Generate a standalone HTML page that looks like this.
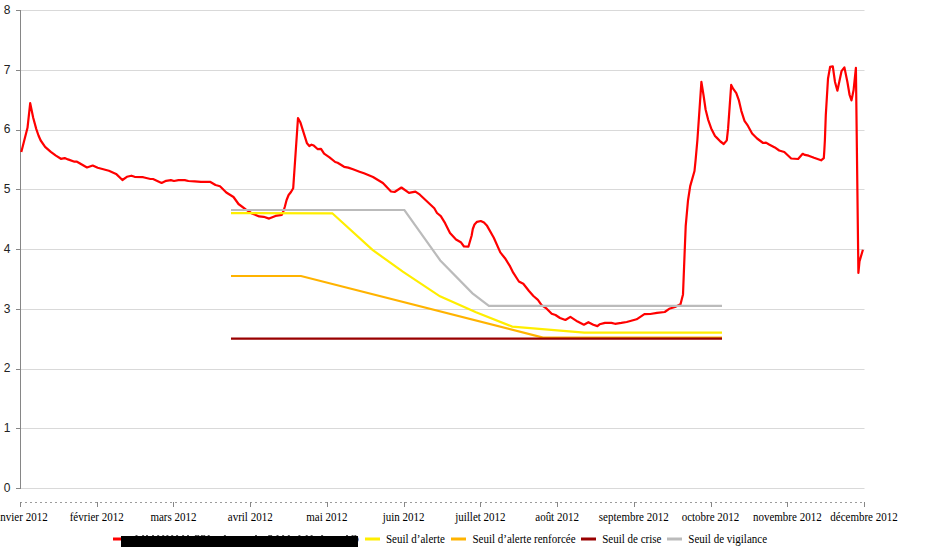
<!DOCTYPE html>
<html><head><meta charset="utf-8"><style>
html,body{margin:0;padding:0;background:#fff;width:929px;height:555px;overflow:hidden}
svg{display:block}
.ys{font-family:"Liberation Sans",sans-serif;font-size:12px;fill:#222}
.xs{font-family:"Liberation Serif",serif;font-size:11px;fill:#000}
</style></head><body>
<svg width="929" height="555" viewBox="0 0 929 555">
<rect width="929" height="555" fill="#fff"/>
<line x1="20" y1="488.5" x2="864.5" y2="488.5" stroke="#d9d9d9" stroke-width="1"/><line x1="16" y1="488.5" x2="20" y2="488.5" stroke="#868686" stroke-width="1"/><line x1="20" y1="428.5" x2="864.5" y2="428.5" stroke="#d9d9d9" stroke-width="1"/><line x1="16" y1="428.5" x2="20" y2="428.5" stroke="#868686" stroke-width="1"/><line x1="20" y1="369.5" x2="864.5" y2="369.5" stroke="#d9d9d9" stroke-width="1"/><line x1="16" y1="369.5" x2="20" y2="369.5" stroke="#868686" stroke-width="1"/><line x1="20" y1="309.5" x2="864.5" y2="309.5" stroke="#d9d9d9" stroke-width="1"/><line x1="16" y1="309.5" x2="20" y2="309.5" stroke="#868686" stroke-width="1"/><line x1="20" y1="249.5" x2="864.5" y2="249.5" stroke="#d9d9d9" stroke-width="1"/><line x1="16" y1="249.5" x2="20" y2="249.5" stroke="#868686" stroke-width="1"/><line x1="20" y1="189.5" x2="864.5" y2="189.5" stroke="#d9d9d9" stroke-width="1"/><line x1="16" y1="189.5" x2="20" y2="189.5" stroke="#868686" stroke-width="1"/><line x1="20" y1="130.5" x2="864.5" y2="130.5" stroke="#d9d9d9" stroke-width="1"/><line x1="16" y1="130.5" x2="20" y2="130.5" stroke="#868686" stroke-width="1"/><line x1="20" y1="70.5" x2="864.5" y2="70.5" stroke="#d9d9d9" stroke-width="1"/><line x1="16" y1="70.5" x2="20" y2="70.5" stroke="#868686" stroke-width="1"/><line x1="20" y1="10.5" x2="864.5" y2="10.5" stroke="#d9d9d9" stroke-width="1"/><line x1="16" y1="10.5" x2="20" y2="10.5" stroke="#868686" stroke-width="1"/>
<line x1="20.5" y1="10" x2="20.5" y2="489" stroke="#868686" stroke-width="1"/>
<line x1="20" y1="502.5" x2="865" y2="502.5" stroke="#9c9c9c" stroke-width="1" stroke-dasharray="2,3"/>
<line x1="20.5" y1="502" x2="20.5" y2="507" stroke="#868686" stroke-width="1"/><line x1="97.5" y1="502" x2="97.5" y2="507" stroke="#868686" stroke-width="1"/><line x1="173.5" y1="502" x2="173.5" y2="507" stroke="#868686" stroke-width="1"/><line x1="250.5" y1="502" x2="250.5" y2="507" stroke="#868686" stroke-width="1"/><line x1="327.5" y1="502" x2="327.5" y2="507" stroke="#868686" stroke-width="1"/><line x1="404.5" y1="502" x2="404.5" y2="507" stroke="#868686" stroke-width="1"/><line x1="480.5" y1="502" x2="480.5" y2="507" stroke="#868686" stroke-width="1"/><line x1="557.5" y1="502" x2="557.5" y2="507" stroke="#868686" stroke-width="1"/><line x1="634.5" y1="502" x2="634.5" y2="507" stroke="#868686" stroke-width="1"/><line x1="711.5" y1="502" x2="711.5" y2="507" stroke="#868686" stroke-width="1"/><line x1="787.5" y1="502" x2="787.5" y2="507" stroke="#868686" stroke-width="1"/><line x1="864.5" y1="502" x2="864.5" y2="507" stroke="#868686" stroke-width="1"/>
<g class="ys"><text x="10.5" y="491.8" text-anchor="end">0</text><text x="10.5" y="432.1" text-anchor="end">1</text><text x="10.5" y="372.3" text-anchor="end">2</text><text x="10.5" y="312.6" text-anchor="end">3</text><text x="10.5" y="252.8" text-anchor="end">4</text><text x="10.5" y="193.1" text-anchor="end">5</text><text x="10.5" y="133.3" text-anchor="end">6</text><text x="10.5" y="73.5" text-anchor="end">7</text><text x="10.5" y="13.8" text-anchor="end">8</text></g>
<g class="xs" transform="translate(0,521) scale(1,1.08) translate(0,-521)"><text x="20.0" y="521" text-anchor="middle">janvier 2012</text><text x="96.7" y="521" text-anchor="middle">février 2012</text><text x="173.5" y="521" text-anchor="middle">mars 2012</text><text x="250.2" y="521" text-anchor="middle">avril 2012</text><text x="326.9" y="521" text-anchor="middle">mai 2012</text><text x="403.6" y="521" text-anchor="middle">juin 2012</text><text x="480.4" y="521" text-anchor="middle">juillet 2012</text><text x="557.1" y="521" text-anchor="middle">août 2012</text><text x="633.8" y="521" text-anchor="middle">septembre 2012</text><text x="710.5" y="521" text-anchor="middle">octobre 2012</text><text x="787.3" y="521" text-anchor="middle">novembre 2012</text><text x="864.0" y="521" text-anchor="middle">décembre 2012</text></g>
<polyline points="21.3,152.0 27.5,127.8 30.2,103.2 33.2,117.7 36.3,129.1 38.5,135.5 40.7,140.5 45.1,146.8 50.8,151.8 55.9,155.6 60.9,158.8 64.7,158.1 68.0,159.4 74.5,161.7 77.0,161.7 87.0,167.5 92.7,165.5 97.7,167.8 108.9,170.7 116.1,173.9 122.4,180.0 126.9,176.8 131.4,175.7 134.6,176.8 143.2,177.2 150.4,179.0 153.0,179.0 161.6,182.9 166.1,180.8 170.9,180.1 174.0,181.0 178.5,180.1 184.8,180.1 188.4,181.0 194.7,181.4 201.0,181.8 210.0,181.8 215.5,185.0 220.0,186.2 226.3,192.5 233.5,197.0 238.5,204.0 245.7,209.4 252.0,213.5 259.2,216.4 263.7,216.8 269.1,218.6 275.5,215.9 281.8,214.8 283.6,210.8 284.9,206.5 286.6,200.0 288.6,195.0 291.0,192.0 293.2,188.3 298.0,118.0 300.3,122.2 307.0,143.3 309.3,146.0 311.5,144.7 313.8,145.6 317.8,149.2 321.0,148.9 324.1,153.7 329.5,157.3 335.2,162.0 337.6,162.8 344.1,166.8 348.2,167.6 353.0,169.3 359.5,171.7 364.0,173.3 373.0,177.0 382.9,183.0 391.0,191.5 394.6,192.0 401.4,187.5 409.0,192.9 415.4,191.7 419.9,194.7 434.3,208.2 437.0,213.0 440.8,216.2 445.1,223.2 450.0,233.0 456.0,239.5 460.8,242.2 464.0,246.5 468.4,246.7 471.6,235.7 472.8,229.0 474.5,224.5 477.0,221.8 480.8,221.0 484.0,222.5 486.8,225.4 493.8,237.8 500.3,252.4 505.0,258.2 510.1,266.4 513.2,272.7 518.9,281.5 523.3,283.8 529.0,291.0 533.4,296.0 537.9,299.8 541.6,305.1 546.7,308.7 551.7,313.7 555.5,315.0 560.0,318.0 565.4,320.0 570.4,316.9 577.6,321.6 583.9,324.7 588.4,322.2 593.3,324.7 597.4,326.1 599.6,324.3 605.0,322.9 611.4,322.9 615.0,323.8 621.3,322.9 626.7,322.0 636.6,319.3 644.4,314.2 650.3,314.0 657.0,312.9 664.7,312.0 669.2,308.8 675.0,307.0 680.5,304.3 683.0,294.4 684.4,258.6 685.7,226.2 688.0,200.5 690.2,186.1 694.5,171.0 695.6,160.2 697.4,140.0 701.4,81.8 703.5,95.0 705.6,109.5 708.1,119.6 711.2,128.4 715.0,136.0 716.9,137.9 720.4,141.5 723.7,144.0 726.8,140.4 728.1,128.4 731.2,84.9 733.1,88.7 736.3,93.1 738.8,100.1 741.3,110.8 744.5,120.9 748.0,125.9 752.1,133.5 757.1,138.5 763.1,143.0 766.0,142.6 769.1,144.5 774.8,147.4 779.2,150.5 784.3,152.0 791.2,158.5 798.1,159.0 802.7,153.8 804.9,154.9 808.6,155.7 814.0,157.8 821.1,160.3 823.8,158.1 824.3,150.8 824.9,140.0 825.8,115.0 828.0,78.8 830.1,66.9 832.8,66.4 835.0,82.0 837.4,90.7 841.5,71.2 844.4,67.4 847.4,82.0 849.6,95.0 851.5,100.4 853.6,90.0 855.9,67.8 858.4,273.0 859.5,261.4 862.9,249.7" fill="none" stroke="#ff0000" stroke-width="2.2" stroke-linejoin="round"/>
<polyline points="231.0,210.0 404.4,210.0 440.3,260.5 472.5,293.3 488.9,305.8 722.0,305.8" fill="none" stroke="#bbbbbb" stroke-width="2.2"/>
<polyline points="231.0,213.2 332.3,213.3 372.5,249.9 402.8,271.7 440.0,296.3 476.0,312.3 512.2,326.6 584.3,332.7 722.0,332.7" fill="none" stroke="#ffee00" stroke-width="2.2"/>
<polyline points="231.0,276.0 301.0,276.0 543.0,337.6 722.0,337.6" fill="none" stroke="#ffb300" stroke-width="2.2"/>
<polyline points="231.0,338.7 722.0,338.7" fill="none" stroke="#990000" stroke-width="2.2"/>
<rect x="113" y="537.5" width="15" height="3" fill="#ff0000"/>
<rect x="135.5" y="535" width="2" height="1" fill="#555"/><rect x="142.1" y="535" width="2" height="1" fill="#555"/><rect x="146.0" y="535" width="2" height="1" fill="#555"/><rect x="152.0" y="535" width="2" height="1" fill="#555"/><rect x="157.2" y="535" width="2" height="1" fill="#555"/><rect x="162.2" y="535" width="2" height="1" fill="#555"/><rect x="166.4" y="535" width="2" height="1" fill="#555"/><rect x="171.2" y="535" width="2" height="1" fill="#555"/><rect x="176.1" y="535" width="2" height="1" fill="#555"/><rect x="182.1" y="535" width="2" height="1" fill="#555"/><rect x="187.0" y="535" width="2" height="1" fill="#555"/><rect x="194.9" y="535" width="2" height="1" fill="#555"/><rect x="197.2" y="535" width="2" height="1" fill="#555"/><rect x="200.9" y="535" width="2" height="1" fill="#555"/><rect x="203.2" y="535" width="2" height="1" fill="#555"/><rect x="207.7" y="535" width="2" height="1" fill="#555"/><rect x="223.9" y="535" width="2" height="1" fill="#555"/><rect x="255.0" y="535" width="2" height="1" fill="#555"/><rect x="268.2" y="535" width="2" height="1" fill="#555"/><rect x="270.1" y="535" width="2" height="1" fill="#555"/><rect x="276.5" y="535" width="2" height="1" fill="#555"/><rect x="282.1" y="535" width="2" height="1" fill="#555"/><rect x="287.8" y="535" width="2" height="1" fill="#555"/><rect x="298.4" y="535" width="2" height="1" fill="#555"/><rect x="305.7" y="535" width="2" height="1" fill="#555"/><rect x="310.6" y="535" width="2" height="1" fill="#555"/><rect x="321.1" y="535" width="2" height="1" fill="#555"/><rect x="346.0" y="535" width="2" height="1" fill="#555"/><rect x="351.6" y="535" width="2" height="1" fill="#555"/><rect x="354.3" y="535" width="2" height="1" fill="#555"/><path d="M357.3,536.5 Q359.6,539.5 357.3,542.5" fill="none" stroke="#2a4fa8" stroke-width="0.9"/>
<rect x="121" y="536" width="237" height="11" fill="#000"/>
<rect x="365" y="537.5" width="15" height="3" fill="#ffee00"/><rect x="451" y="537.5" width="15" height="3" fill="#ffb300"/><rect x="581" y="537.5" width="15" height="3" fill="#990000"/><rect x="667" y="537.5" width="15" height="3" fill="#bbbbbb"/>
<g class="xs" transform="translate(0,543) scale(1,1.08) translate(0,-543)"><text x="386" y="543">Seuil d’alerte</text><text x="472.4" y="543">Seuil d’alerte renforcée</text><text x="602.2" y="543">Seuil de crise</text><text x="688.3" y="543">Seuil de vigilance</text></g>
</svg>
</body></html>
